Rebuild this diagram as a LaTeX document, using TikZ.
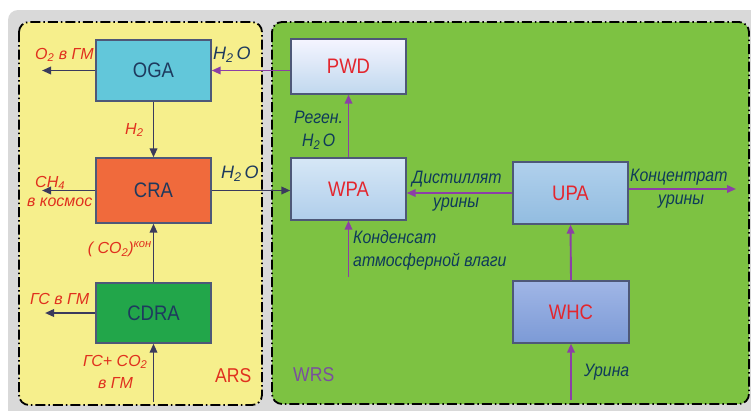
\documentclass[tikz,border=0pt]{standalone}
\usepackage{fontspec}
\setmainfont{Liberation Sans}
\usetikzlibrary{arrows.meta}
\definecolor{bggray}{HTML}{D9D9D9}
\definecolor{arsyellow}{HTML}{F6EF8C}
\definecolor{wrsgreen}{HTML}{7DC242}
\definecolor{boxline}{HTML}{4E5878}
\definecolor{ogafill}{HTML}{62C7DA}
\definecolor{crafill}{HTML}{F06A3C}
\definecolor{cdrafill}{HTML}{22A64A}
\definecolor{navy}{HTML}{1E3A5E}
\definecolor{boxred}{HTML}{E3262E}
\definecolor{lblred}{HTML}{E0301E}
\definecolor{lblteal}{HTML}{0E3A5A}
\definecolor{arrdark}{HTML}{3A3A5C}
\definecolor{arrpurple}{HTML}{8C3FA6}
\definecolor{wrspurple}{HTML}{7A4F9E}
\newcommand{\narrow}[1]{\scalebox{0.88}[1]{#1}}
\tikzset{
  panel/.style={rounded corners=10pt, draw=black, line width=1.8pt,
    dash pattern=on 10pt off 3pt on 1.5pt off 3pt},
  blk/.style={draw=boxline, line width=1.3pt, minimum width=115pt,
    minimum height=61pt, inner sep=0pt, font=\fontsize{21}{24}\selectfont},
  redlbl/.style={inner sep=0pt, text=lblred, font=\fontsize{16}{19}\selectfont\itshape},
  teallbl/.style={inner sep=0pt, text=lblteal, font=\fontsize{18}{20}\selectfont\itshape},
  navylbl/.style={inner sep=0pt, text=navy, font=\fontsize{18}{20}\selectfont\itshape},
  arrd/.style={draw=arrdark, line width=1.9pt, -{Triangle[length=9pt,width=7.5pt]}},
  arrp/.style={draw=arrpurple, line width=1.9pt, -{Triangle[length=9pt,width=7.5pt]}}
}
\begin{document}
\begin{tikzpicture}[x=1pt,y=-1pt]
\useasboundingbox (0,0) rectangle (751,410);
\begin{scope}
\clip (0,0) rectangle (751,410);
\fill[bggray, rounded corners=10pt] (8,10) rectangle (770,430);
\end{scope}
% panels
\fill[arsyellow, rounded corners=10pt] (19,22) rectangle (262,405);
\draw[panel] (19,22) rectangle (262,405);
\fill[wrsgreen, rounded corners=10pt] (272,22) rectangle (749,404);
\draw[panel] (272,22) rectangle (749,404);
% blocks
\node[blk, fill=ogafill, text=navy] (OGA) at (153.5,70.5) {\narrow{OGA}};
\node[blk, fill=crafill, text=navy, minimum height=65pt] (CRA) at (153.5,190.5) {\narrow{CRA}};
\node[blk, fill=cdrafill, text=navy, minimum height=60pt] (CDRA) at (153.5,313) {\narrow{CDRA}};
\node[blk, top color=blue!4!white, bottom color={rgb,255:red,192;green,216;blue,238}, text=boxred, minimum height=55pt] (PWD) at (348.5,66.5) {\narrow{PWD}};
\node[blk, top color={rgb,255:red,214;green,231;blue,246}, bottom color={rgb,255:red,176;green,206;blue,235}, text=boxred, minimum height=62pt] (WPA) at (348.5,189) {\narrow{WPA}};
\node[blk, top color={rgb,255:red,176;green,208;blue,236}, bottom color={rgb,255:red,146;green,188;blue,224}, text=boxred, minimum height=62pt] (UPA) at (570.5,193) {\narrow{UPA}};
\node[blk, top color={rgb,255:red,160;green,182;blue,230}, bottom color={rgb,255:red,124;green,154;blue,214}, text=boxred, minimum width=116pt, minimum height=62pt] (WHC) at (571,312) {\narrow{WHC}};
% free ends
\coordinate (o2out) at (42,70.5);
\coordinate (ch4out) at (42,190.5);
\coordinate (gsout) at (45,313);
\coordinate (gsin) at (153.5,402);
\coordinate (condin) at (348.5,277);
\coordinate (urin) at (571,400);
\coordinate (concout) at (736,189);
% connectors
\draw[arrd] (OGA.west) -- (o2out);
\draw[arrd] (OGA.south) -- (CRA.north);
\draw[arrd] (CRA.west) -- (ch4out);
\draw[arrd] (CDRA.north) -- (CRA.south);
\draw[arrd] (CDRA.west) -- (gsout);
\draw[arrd] (gsin) -- (CDRA.south);
\draw[arrd] (CRA.east) -- (CRA.east -| WPA.west);
\draw[arrp] (PWD.west |- OGA.east) -- (OGA.east);
\draw[arrp] (WPA.north) -- (PWD.south);
\draw[arrp] (UPA.west) -- (UPA.west -| WPA.east);
\draw[arrp] (condin) -- (WPA.south);
\draw[arrp] (UPA.east |- concout) -- (concout);
\draw[arrp] (WHC.north) -- (UPA.south);
\draw[arrp] (urin) -- (WHC.south);
% labels ARS
\node[redlbl, anchor=west] (lo2) at (35,55) {O\textsubscript{2} в ГМ};
\node[navylbl, anchor=west] (lh2oa) at (213,55) {H\textsubscript{2}\,O};
\node[redlbl, anchor=west] (lh2) at (125,130) {H\textsubscript{2}};
\node[redlbl, anchor=west] (lch4) at (35,183) {CH\textsubscript{4}};
\node[redlbl, anchor=west] (lkos) at (27,202) {в космос};
\node[navylbl, anchor=west] (lh2ob) at (221,174) {H\textsubscript{2}\,O};
\node[redlbl, anchor=east] (lco2) at (152,249) {( CO\textsubscript{2})\textsuperscript{кон}};
\node[redlbl, anchor=west] (lgs) at (30,299) {ГС в ГМ};
\node[redlbl, anchor=west] (lgsco) at (83,362) {ГС+ CO\textsubscript{2}};
\node[redlbl, anchor=west] (lgm) at (98,383) {в ГМ};
\node[inner sep=0pt, text=lblred, font=\fontsize{20}{22}\selectfont, anchor=west] (lars) at (215,376) {\narrow{ARS}};
% labels WRS
\node[teallbl, anchor=west] (lreg) at (294,117) {\narrow{Реген.}};
\node[teallbl, anchor=west] (lh2oc) at (302,142) {\narrow{H\textsubscript{2}\,O}};
\node[teallbl, anchor=west] (ldist) at (412,179) {\narrow{Дистиллят}};
\node[teallbl, anchor=west] (lur1) at (433,205) {\narrow{урины}};
\node[teallbl, anchor=west] (lkond) at (353,237) {\narrow{Конденсат}};
\node[teallbl, anchor=west] (latm) at (353,262) {\narrow{атмосферной влаги}};
\node[teallbl, anchor=west] (lkonc) at (630,177) {\narrow{Концентрат}};
\node[teallbl, anchor=west] (lur2) at (658,202) {\narrow{урины}};
\node[teallbl, anchor=west] (lurina) at (584,372) {\narrow{Урина}};
\node[inner sep=0pt, text=wrspurple, font=\fontsize{20}{22}\selectfont, anchor=west] (lwrs) at (293,375) {\narrow{WRS}};
\end{tikzpicture}
\end{document}
